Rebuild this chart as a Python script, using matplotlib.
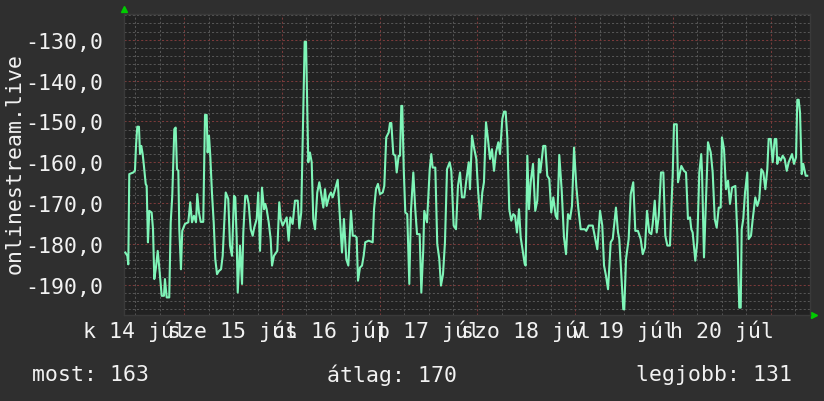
import matplotlib
matplotlib.use('Agg')
import matplotlib.pyplot as plt
from matplotlib.ticker import MultipleLocator, FixedLocator

# time in days since 14 Jul 00:00, value = -(listeners)
t_days = [0.396, 0.417, 0.427, 0.437, 0.478, 0.495, 0.506, 0.519, 0.536, 0.547,
          0.560, 0.574, 0.587, 0.605, 0.615, 0.628, 0.642, 0.666, 0.680, 0.693,
          0.710, 0.728, 0.744, 0.769, 0.792, 0.802, 0.820, 0.846, 0.861, 0.877,
          0.898, 0.912, 0.925, 0.939, 0.949, 0.966, 0.979, 1.007, 1.041, 1.061,
          1.079, 1.099, 1.120, 1.133, 1.150, 1.168, 1.194, 1.212, 1.229, 1.239,
          1.253, 1.266, 1.283, 1.301, 1.317, 1.335, 1.355, 1.376, 1.393, 1.424,
          1.450, 1.468, 1.488, 1.509, 1.522, 1.536, 1.547, 1.570, 1.591, 1.604,
          1.624, 1.642, 1.659, 1.680, 1.700, 1.716, 1.741, 1.757, 1.775, 1.795,
          1.816, 1.829, 1.843, 1.864, 1.884, 1.898, 1.918, 1.952, 1.972, 1.987,
          2.007, 2.031, 2.048, 2.068, 2.085, 2.109, 2.133, 2.161, 2.177, 2.197,
          2.212, 2.232, 2.246, 2.256, 2.269, 2.286, 2.304, 2.320, 2.338, 2.361,
          2.382, 2.399, 2.423, 2.440, 2.457, 2.484, 2.501, 2.519, 2.539, 2.570,
          2.586, 2.614, 2.634, 2.658, 2.679, 2.706, 2.724, 2.744, 2.764, 2.778,
          2.798, 2.819, 2.836, 2.852, 2.887, 2.928, 2.942, 2.962, 2.982, 3.003,
          3.031, 3.047, 3.067, 3.092, 3.105, 3.119, 3.139, 3.160, 3.174, 3.194,
          3.208, 3.221, 3.231, 3.246, 3.262, 3.282, 3.303, 3.320, 3.344, 3.364,
          3.382, 3.409, 3.426, 3.446, 3.456, 3.484, 3.512, 3.528, 3.542, 3.569,
          3.589, 3.610, 3.627, 3.648, 3.668, 3.689, 3.716, 3.733, 3.757, 3.781,
          3.801, 3.822, 3.842, 3.866, 3.886, 3.911, 3.924, 3.945, 3.965, 3.989,
          4.006, 4.029, 4.050, 4.067, 4.088, 4.108, 4.129, 4.149, 4.170, 4.190,
          4.214, 4.231, 4.255, 4.272, 4.289, 4.306, 4.326, 4.347, 4.367, 4.385,
          4.405, 4.426, 4.443, 4.459, 4.484, 4.494, 4.511, 4.528, 4.545, 4.569,
          4.592, 4.613, 4.630, 4.644, 4.674, 4.695, 4.715, 4.736, 4.756, 4.777,
          4.801, 4.818, 4.838, 4.863, 4.886, 4.907, 4.927, 4.948, 4.968, 4.989,
          5.012, 5.032, 5.057, 5.098, 5.114, 5.139, 5.180, 5.200, 5.227, 5.255,
          5.278, 5.296, 5.316, 5.337, 5.364, 5.385, 5.418, 5.439, 5.452, 5.473,
          5.493, 5.503, 5.521, 5.548, 5.569, 5.595, 5.616, 5.643, 5.671, 5.692,
          5.715, 5.736, 5.759, 5.780, 5.794, 5.815, 5.835, 5.856, 5.879, 5.903,
          5.923, 5.944, 5.971, 5.984, 5.999, 6.012, 6.040, 6.053, 6.087, 6.114,
          6.135, 6.155, 6.176, 6.189, 6.203, 6.230, 6.250, 6.271, 6.291, 6.299,
          6.319, 6.340, 6.360, 6.388, 6.408, 6.429, 6.449, 6.470, 6.490, 6.503,
          6.524, 6.544, 6.565, 6.585, 6.606, 6.640, 6.660, 6.680, 6.695, 6.705,
          6.721, 6.739, 6.762, 6.776, 6.800, 6.818, 6.844, 6.865, 6.885, 6.906,
          6.926, 6.947, 6.967, 6.981, 7.002, 7.022, 7.043, 7.059, 7.069, 7.084,
          7.104, 7.125, 7.145, 7.166, 7.186, 7.220, 7.240, 7.261, 7.274, 7.288,
          7.302, 7.319, 7.335, 7.360, 7.376]
listeners = [-182.1, -182.9, -185.0, -162.9, -162.5, -162.1, -156.0, -151.3, -151.3, -158.0,
             -156.0, -158.0, -160.9, -165.3, -165.8, -179.6, -171.9, -172.3, -176.4, -188.6,
             -185.8, -181.7, -185.8, -192.7, -192.7, -188.6, -193.1, -193.1, -174.7, -168.2,
             -151.9, -151.5, -161.7, -162.1, -176.4, -186.2, -176.8, -175.1, -174.7, -169.8,
             -174.7, -173.1, -174.7, -167.8, -172.3, -174.6, -174.6, -148.4, -148.4, -157.6,
             -153.5, -158.4, -167.4, -174.7, -183.7, -187.4, -186.6, -186.2, -182.9, -167.4,
             -169.0, -180.4, -182.9, -168.2, -168.6, -178.4, -191.9, -180.4, -189.8, -177.2,
             -168.2, -168.2, -170.2, -176.4, -178.0, -176.0, -173.9, -167.4, -181.7, -166.2,
             -171.5, -170.2, -171.5, -174.7, -178.8, -185.3, -182.9, -181.7, -169.8, -173.9,
             -175.5, -174.3, -173.5, -179.2, -173.5, -175.1, -169.4, -169.4, -176.2, -172.3,
             -154.3, -130.5, -130.5, -143.7, -160.0, -157.6, -160.0, -173.9, -176.4, -167.4,
             -164.9, -167.4, -171.1, -166.6, -170.7, -168.2, -167.4, -168.6, -167.0, -164.3,
             -170.7, -182.1, -173.9, -183.7, -185.3, -171.9, -178.0, -178.0, -178.4, -189.0,
             -185.8, -185.3, -182.9, -179.6, -179.2, -179.6, -171.5, -166.6, -165.3, -167.8,
             -167.4, -165.8, -153.9, -152.7, -150.4, -150.4, -158.0, -158.4, -162.5, -158.4,
             -158.4, -146.2, -146.2, -161.7, -172.3, -172.7, -189.8, -171.9, -162.5, -171.5,
             -177.6, -177.6, -191.9, -181.3, -171.9, -174.7, -161.7, -158.0, -161.3, -161.3,
             -180.0, -183.7, -190.2, -187.4, -179.6, -161.7, -160.0, -162.1, -175.5, -176.4,
             -165.8, -162.5, -168.6, -168.6, -164.5, -160.0, -166.6, -153.5, -156.4, -159.2,
             -166.6, -173.9, -167.4, -164.9, -150.2, -154.3, -159.2, -156.8, -162.1, -157.6,
             -155.1, -158.0, -149.4, -147.6, -147.6, -153.9, -171.5, -174.3, -172.7, -173.1,
             -177.2, -171.5, -178.4, -180.9, -184.9, -185.3, -158.4, -171.5, -164.9, -160.4,
             -171.9, -169.4, -159.2, -162.5, -156.0, -156.0, -163.3, -164.1, -172.3, -168.6,
             -173.1, -173.9, -158.2, -167.0, -178.4, -182.5, -172.7, -173.9, -170.7, -156.4,
             -165.8, -171.1, -176.4, -176.4, -176.8, -175.5, -175.5, -178.0, -181.3, -171.9,
             -175.5, -185.3, -187.8, -191.1, -179.6, -178.8, -171.1, -177.2, -178.8, -187.4,
             -196.0, -196.0, -183.7, -178.8, -167.8, -164.9, -176.8, -176.8, -178.8, -182.5,
             -180.9, -171.9, -177.2, -177.6, -175.1, -169.4, -177.2, -173.1, -162.5, -162.5,
             -178.0, -180.4, -180.4, -171.9, -162.9, -150.7, -150.7, -164.9, -160.9, -162.1,
             -162.5, -173.9, -173.5, -176.4, -177.2, -184.1, -179.6, -162.5, -158.0, -162.5,
             -183.3, -169.0, -155.1, -157.6, -162.5, -173.9, -176.0, -171.1, -171.1, -153.9,
             -156.8, -166.6, -164.5, -170.2, -166.2, -165.8, -177.6, -195.6, -195.6, -176.4,
             -173.9, -167.4, -162.5, -178.8, -178.0, -173.9, -168.6, -170.7, -169.0, -161.7,
             -162.5, -166.6, -161.7, -154.3, -154.3, -160.0, -154.3, -154.3, -160.4, -158.8,
             -159.6, -158.4, -159.2, -162.1, -160.0, -158.0, -160.4, -158.8, -144.7, -144.7,
             -147.8, -162.9, -160.4, -163.3, -163.3]

day_labels = ['k 14 júl', 'sze 15 júl', 'cs 16 júl', 'p 17 júl',
              'szo 18 júl', 'v 19 júl', 'h 20 júl']
y_ticks = [-190, -180, -170, -160, -150, -140, -130]
stat_names = ['most', 'átlag', 'legjobb']
stat_values = [163, 170, 131]

plt.rcParams['font.family'] = ['DejaVu Sans Mono']
fs = 15.5
txt = '#f2f2f2'

fig = plt.figure(figsize=(8.24, 4.02), dpi=100, facecolor='#2f2f2f')
ax = fig.add_axes([124/824, 1-316/402, 686/824, 301/402])
ax.set_facecolor('#222222')

ax.plot(t_days, listeners, color='#7ff5b8', lw=1.5, zorder=3)

ax.set_xlim(0.383, 7.404)
ax.set_ylim(-197.4, -123.7)

ax.xaxis.set_major_locator(MultipleLocator(1))
ax.xaxis.set_minor_locator(MultipleLocator(0.25))
ax.yaxis.set_major_locator(FixedLocator(y_ticks))
ax.yaxis.set_minor_locator(MultipleLocator(2))
ax.set_xticklabels([])
ax.set_yticklabels([f'{v:.1f}'.replace('.', ',') for v in y_ticks])

ax.grid(which='minor', color='#555555', ls=(0, (2, 2)), lw=0.75)
ax.grid(which='major', color='#7a3a3a', ls=(0, (2, 2)), lw=0.75)
ax.tick_params(which='both', length=0, colors=txt, labelsize=fs, pad=15)
for s in ax.spines.values():
    s.set_color('#3a3a3a')
    s.set_linewidth(1)

for i, lab in enumerate(day_labels):
    ax.text(i + 0.5, -0.05, lab, transform=ax.get_xaxis_transform(),
            ha='center', va='center', color=txt, fontsize=fs, clip_on=False)

fig.text(15/824, 1-163/402, 'onlinestream.live', rotation=90, ha='center',
         va='center', color=txt, fontsize=fs)

fig.text(32/824, 1-375/402, f'{stat_names[0]}: {stat_values[0]}', ha='left',
         va='center', color=txt, fontsize=fs)
fig.text(392/824, 1-375/402, f'{stat_names[1]}: {stat_values[1]}', ha='center',
         va='center', color=txt, fontsize=fs)
fig.text(792/824, 1-375/402, f'{stat_names[2]}: {stat_values[2]}', ha='right',
         va='center', color=txt, fontsize=fs)

# small green arrows at the axis ends
ax.plot([0], [1.017], marker='^', ms=5, color='#00cc00', transform=ax.transAxes, clip_on=False)
ax.plot([1.006], [0], marker='>', ms=5, color='#00cc00', transform=ax.transAxes, clip_on=False)

fig.savefig('out.png', dpi=100, facecolor=fig.get_facecolor())
